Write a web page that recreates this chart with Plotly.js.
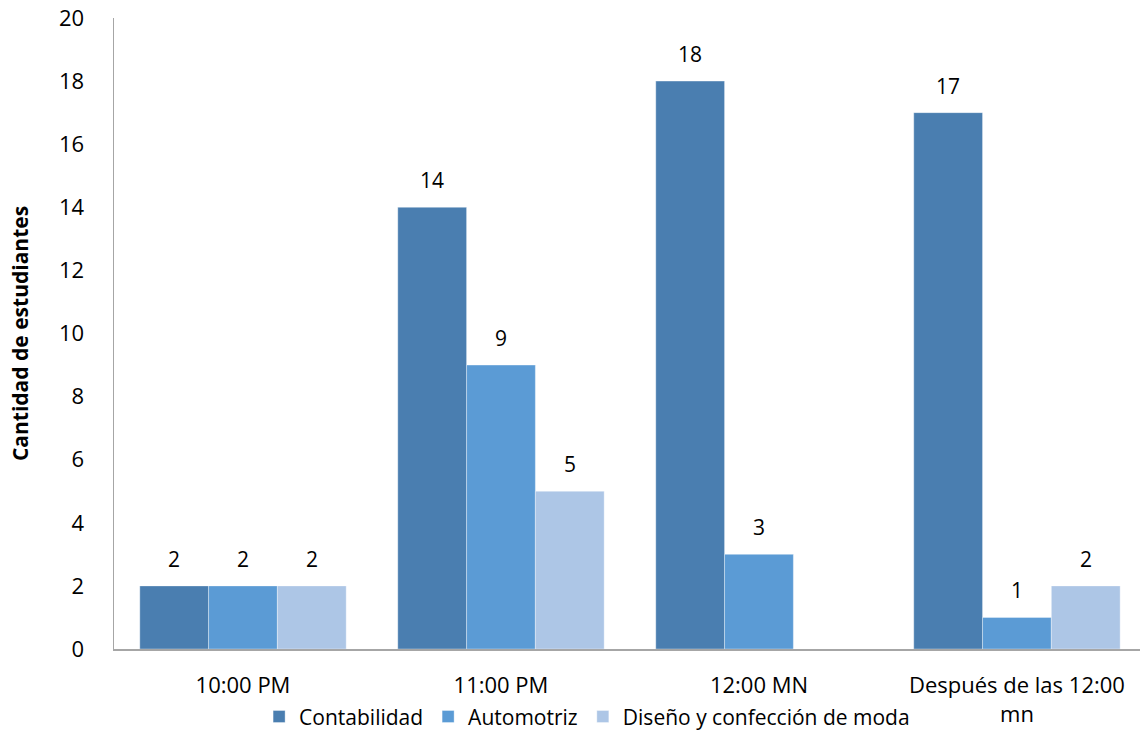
<!DOCTYPE html>
<html>
<head>
<meta charset="utf-8">
<script src="https://cdn.plot.ly/plotly-3.0.1.min.js"></script>
<style>
  html, body { margin: 0; padding: 0; background: #fff; }
  #chart { width: 1140px; height: 733px; }
</style>
</head>
<body>
<div id="chart"></div>
<script>
// Hora a la que se acuestan los estudiantes, por carrera
const categories = ['10:00 PM', '11:00 PM', '12:00 MN', 'Después de las 12:00<br>mn'];
const seriesNames = ['Contabilidad', 'Automotriz', 'Diseño y confección de moda'];
const contabilidad = [2, 14, 18, 17];
const automotriz = [2, 9, 3, 1];
const disenoModa = [2, 5, 0, 2];
const yTicks = [0, 2, 4, 6, 8, 10, 12, 14, 16, 18, 20];

const seriesValues = [contabilidad, automotriz, disenoModa];
const colors = ['#4a7eb0', '#5b9bd5', '#adc6e6'];
const FONT = '"Open Sans", "Noto Sans", sans-serif';

const bargap = 0.2;
const barWidthUnits = (1 - bargap) / seriesValues.length;

const traces = seriesValues.map((vals, s) => ({
  type: 'bar',
  name: seriesNames[s],
  x: categories.map((_, i) => i),
  y: vals,
  marker: { color: colors[s], line: { color: 'rgba(255,255,255,0.35)', width: 1 } },
  hoverinfo: 'y'
}));

// value labels above each bar (zero values carry no label)
const annotations = [];
seriesValues.forEach((vals, s) => {
  vals.forEach((v, i) => {
    if (!v) return;
    annotations.push({
      x: i + (s - (seriesValues.length - 1) / 2) * barWidthUnits,
      y: v,
      xref: 'x', yref: 'y',
      text: String(v),
      showarrow: false,
      yanchor: 'bottom',
      yshift: 11,
      font: { family: FONT, size: 21, color: '#000' }
    });
  });
});

const layout = {
  width: 1140,
  height: 733,
  margin: { l: 114, r: 0, t: 18, b: 84 },
  paper_bgcolor: '#fff',
  plot_bgcolor: '#fff',
  barmode: 'group',
  bargap: bargap,
  bargroupgap: 0,
  showlegend: true,
  legend: {
    orientation: 'h',
    xref: 'container', yref: 'container',
    x: 0.515, xanchor: 'center',
    y: 0.022, yanchor: 'middle',
    font: { family: FONT, size: 21, color: '#000' },
    itemclick: false
  },
  xaxis: {
    type: 'linear',
    range: [-0.5, 3.477],
    tickvals: categories.map((_, i) => i),
    ticktext: categories,
    showgrid: false,
    zeroline: false,
    showline: true,
    linecolor: '#a6a6a6',
    linewidth: 1.5,
    ticks: '',
    ticklabelstandoff: 16,
    tickfont: { family: FONT, size: 22, color: '#000' }
  },
  yaxis: {
    range: [0, 20],
    tickvals: yTicks,
    showgrid: false,
    zeroline: false,
    showline: true,
    linecolor: '#a6a6a6',
    linewidth: 1.5,
    ticks: '',
    ticklabelstandoff: 24,
    tickfont: { family: FONT, size: 22, color: '#000' },
    title: {
      text: 'Cantidad de estudiantes',
      font: { family: FONT, size: 21, color: '#000', weight: 'bold' },
      standoff: 24
    }
  },
  annotations: annotations,
  font: { family: FONT }
};

Plotly.newPlot('chart', traces, layout, { displayModeBar: false, staticPlot: true });
</script>
</body>
</html>
